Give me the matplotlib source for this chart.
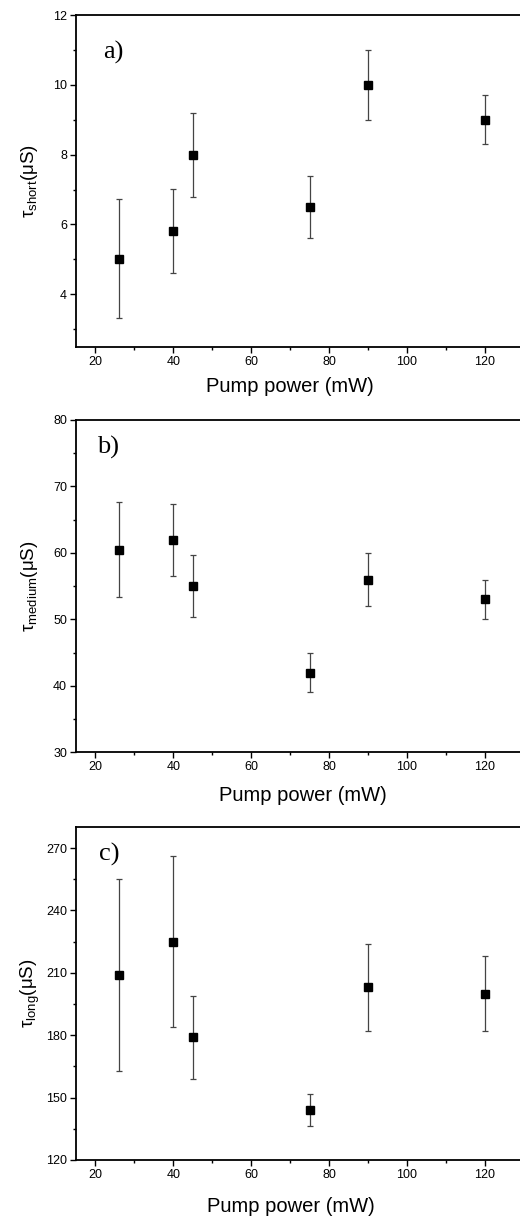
import matplotlib
matplotlib.use("Agg")
import matplotlib.pyplot as plt
from matplotlib.ticker import MultipleLocator

plt.rcParams['font.family'] = ['Liberation Sans', 'DejaVu Sans']
plt.rcParams['mathtext.fontset'] = 'custom'
plt.rcParams['mathtext.rm'] = 'Liberation Sans'
plt.rcParams['mathtext.it'] = 'Liberation Sans:italic'

# Data
pump_power = [26, 40, 45, 75, 90, 120]
tau_short = [5.02, 5.82, 8.0, 6.5, 10.0, 9.0]
tau_short_err = [1.71, 1.2, 1.2, 0.9, 1.0, 0.7]
tau_medium = [60.5, 62.0, 55.0, 42.0, 56.0, 53.0]
tau_medium_err = [7.2, 5.4, 4.7, 3.0, 4.0, 3.0]
tau_long = [209, 225, 179, 144, 203, 200]
tau_long_err = [46, 41, 20, 7.5, 21, 18]

panel_labels = ['a)', 'b)', 'c)']
ylabels = [r"τ$_{\mathrm{short}}$(μS)", r"τ$_{\mathrm{medium}}$(μS)", r"τ$_{\mathrm{long}}$(μS)"]

W, H = 520, 1219
fig = plt.figure(figsize=(W / 100, H / 100), dpi=100)

# panel geometry in pixels: (top, bottom)
geom = [(15, 346.7), (420, 752.3), (827.3, 1160)]
left_px = 76
width_px = 467.3
ylims = [(2.5, 12), (30, 80), (120, 280)]
ymajor = [2, 10, 30]
yminor = [1, 5, 15]
xlabel_pos = [(0.458, -0.121), (0.485, -0.131), (0.46, -0.141)]
plabel_pos = [(0.058, 0.888), (0.045, 0.916), (0.05, 0.917)]
series = [(tau_short, tau_short_err), (tau_medium, tau_medium_err), (tau_long, tau_long_err)]

for i in range(3):
    top, bot = geom[i]
    ax = fig.add_axes([left_px / W, 1 - bot / H, width_px / W, (bot - top) / H])
    y, e = series[i]
    ax.errorbar(pump_power, y, yerr=e, fmt='s', color='black', markersize=5.5,
                ecolor='#444444', elinewidth=0.9, capsize=2.5, capthick=0.9)
    ax.set_xlim(15, 135)
    ax.set_ylim(*ylims[i])
    ax.xaxis.set_major_locator(MultipleLocator(20))
    ax.xaxis.set_minor_locator(MultipleLocator(10))
    ax.yaxis.set_major_locator(MultipleLocator(ymajor[i]))
    ax.yaxis.set_minor_locator(MultipleLocator(yminor[i]))
    ax.tick_params(which='major', direction='out', length=4.5, width=1.0, labelsize=9, pad=2)
    ax.tick_params(which='minor', direction='out', length=2.5, width=1.0)
    ax.tick_params(axis='y', which='both', right=False)
    ax.tick_params(axis='x', which='both', top=False)
    for sp in ax.spines.values():
        sp.set_linewidth(1.3)
    ax.set_xlabel('Pump power (mW)', fontsize=14.5)
    ax.xaxis.set_label_coords(*xlabel_pos[i])
    ax.xaxis.label.set_va('center')
    ax.set_ylabel(ylabels[i], fontsize=13.5)
    ax.yaxis.set_label_coords(-0.0985, 0.5)
    ax.yaxis.label.set_va('center')
    ax.text(plabel_pos[i][0], plabel_pos[i][1], panel_labels[i], transform=ax.transAxes,
            fontsize=19, family='Liberation Serif', ha='left', va='center')

fig.savefig('out.png', dpi=100)
